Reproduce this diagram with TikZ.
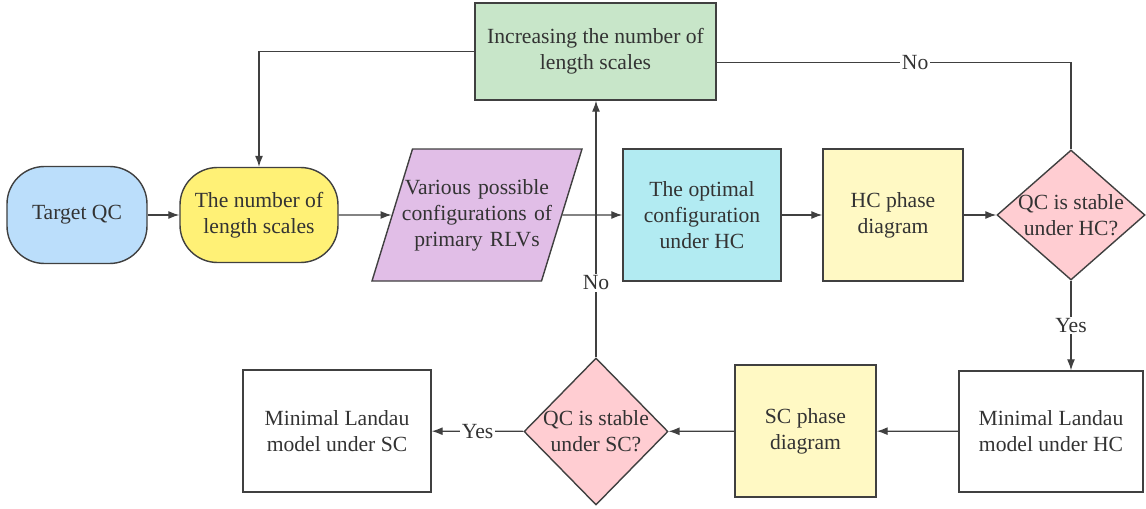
\documentclass[tikz,border=0pt]{standalone}
\usepackage{fontspec}
\setmainfont{Liberation Serif}
\newfontfamily\chartfont{Liberation Serif}
\usetikzlibrary{shapes.geometric, arrows.meta}

\definecolor{linegray}{HTML}{404040}
\definecolor{textgray}{HTML}{333333}
\definecolor{qcblue}{HTML}{BBDEFB}
\definecolor{scaleyellow}{HTML}{FFF176}
\definecolor{rlvpurple}{HTML}{E1BEE7}
\definecolor{incgreen}{HTML}{C8E6C9}
\definecolor{optcyan}{HTML}{B2EBF2}
\definecolor{phaseyellow}{HTML}{FFF9C4}
\definecolor{askpink}{HTML}{FFCDD2}

\begin{document}
\begin{tikzpicture}[>={Latex[length=2.2mm,width=1.6mm]},
  every node/.style={text=textgray, font=\chartfont\fontsize{12.3}{14.7}\selectfont, align=center},
  box/.style={draw=linegray, line width=0.8pt, rectangle, inner sep=2pt},
  roundbox/.style={box, rounded corners=0.75cm},
  askbox/.style={draw=linegray, line width=0.8pt, diamond, fill=askpink,
    inner xsep=-0.35cm, inner ysep=-0.2cm},
  flow/.style={draw=linegray, line width=0.7pt},
  answer/.style={fill=white, inner sep=1pt}]
  \useasboundingbox (0,0) rectangle (22.92,-10.16);

  % top row
  \node[roundbox, fill=qcblue, minimum width=2.8cm, minimum height=1.94cm] (tqc) at (1.54,-4.3) {Target QC};
  \node[roundbox, fill=scaleyellow, minimum width=3.16cm, minimum height=1.9cm] (nls) at (5.18,-4.3) {The number of\\length scales};
  \node[draw=linegray, line width=0.8pt, fill=rlvpurple, trapezium, trapezium left angle=64, trapezium right angle=116,
    trapezium stretches body, text width=3.1cm, inner xsep=-0.26cm, minimum height=2.64cm] (rlv) at (9.54,-4.3) {Various possible\\configurations of\\primary RLVs};
  \node[box, fill=incgreen, minimum width=4.82cm, minimum height=1.94cm] (inc) at (11.91,-1.03) {Increasing the number of\\length scales};
  \node[box, fill=optcyan, minimum width=3.16cm, minimum height=2.64cm] (opt) at (14.04,-4.3) {The optimal\\configuration\\under HC};
  \node[box, fill=phaseyellow, minimum width=2.8cm, minimum height=2.64cm] (hcp) at (17.86,-4.3) {HC phase\\diagram};
  \node[askbox, minimum width=2.96cm, minimum height=2.6cm] (hcq) at (21.42,-4.3) {QC is stable\\under HC?};

  % bottom row
  \node[box, minimum width=3.68cm, minimum height=2.42cm] (lhc) at (21.02,-8.63) {Minimal Landau\\model under HC};
  \node[box, fill=phaseyellow, minimum width=2.82cm, minimum height=2.64cm] (scp) at (16.11,-8.62) {SC phase\\diagram};
  \node[askbox, minimum width=2.88cm, minimum height=2.94cm] (scq) at (11.92,-8.63) {QC is stable\\under SC?};
  \node[box, minimum width=3.76cm, minimum height=2.44cm] (lsc) at (6.74,-8.62) {Minimal Landau\\model under SC};

  \draw[flow, ->] (tqc) -- (nls);
  \draw[flow, ->] (nls) -- (rlv);
  \draw[flow, ->] (rlv) -- (opt);
  \draw[flow, ->] (opt) -- (hcp);
  \draw[flow, ->] (hcp) -- (hcq);
  \draw[flow] (hcq.north) |- node[answer, pos=0.72] {No} ([yshift=-0.22cm]inc.east);
  \draw[flow, ->] (inc.west) -| (nls.north);
  \draw[flow, ->] (hcq.south) -- node[answer] {Yes} (hcq.south |- lhc.north);
  \draw[flow, ->] (lhc) -- (scp);
  \draw[flow, ->] (scp) -- (scq);
  \draw[flow, ->] (scq) -- node[answer] {Yes} (lsc);
  \draw[flow, ->] (scq.north) -- node[answer, pos=0.29] {No} (scq.north |- inc.south);
\end{tikzpicture}
\end{document}
